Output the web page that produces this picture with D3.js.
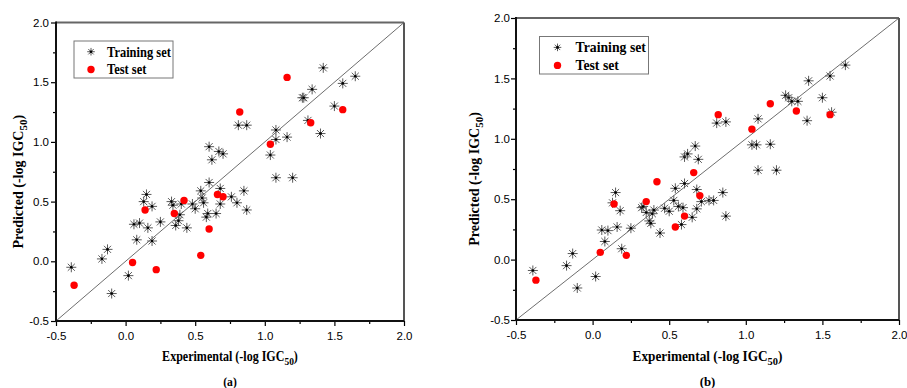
<!DOCTYPE html>
<html>
<head>
<meta charset="utf-8">
<script src="https://cdn.jsdelivr.net/npm/d3@7"></script>
<style>
  body { margin: 0; background: #fff; }
  .tick text { font-family: "Liberation Sans", Arial, sans-serif; font-size: 11.5px; fill: #000; }
  .ttl { font-family: "Liberation Serif", "Times New Roman", serif; font-weight: bold; font-size: 14px; fill: #000; }
</style>
</head>
<body>
<svg id="chart" width="907" height="388"></svg>
<script>
// ===== data =====
// panel (a): [experimental, predicted]
const trainA = [[-0.39,-0.05],[-0.17,0.02],[-0.13,0.10],[-0.10,-0.27],[0.02,-0.12],[0.06,0.31],[0.10,0.32],[0.08,0.18],
  [0.15,0.56],[0.13,0.50],[0.19,0.46],[0.16,0.28],[0.19,0.17],[0.25,0.33],[0.33,0.50],[0.34,0.47],[0.36,0.30],[0.38,0.34],
  [0.39,0.39],[0.40,0.48],[0.44,0.28],[0.48,0.48],[0.50,0.44],[0.54,0.59],[0.55,0.53],[0.56,0.49],[0.59,0.40],[0.58,0.37],
  [0.60,0.66],[0.65,0.40],[0.68,0.48],[0.68,0.61],[0.76,0.54],[0.80,0.49],[0.85,0.59],[0.87,0.43],[0.60,0.96],[0.67,0.92],
  [0.70,0.90],[0.62,0.85],[0.81,1.14],[0.87,1.14],[1.04,0.89],[1.08,1.02],[1.08,1.10],[1.16,1.04],[1.08,0.70],[1.20,0.70],
  [1.27,1.37],[1.28,1.37],[1.34,1.44],[1.31,1.18],[1.40,1.07],[1.42,1.62],[1.50,1.30],[1.56,1.49],[1.65,1.55]];
const testA = [[-0.37,-0.20],[0.05,-0.01],[0.14,0.43],[0.22,-0.07],[0.35,0.40],[0.42,0.51],[0.54,0.05],[0.60,0.27],
  [0.66,0.56],[0.70,0.54],[0.82,1.25],[1.04,0.98],[1.16,1.54],[1.33,1.16],[1.56,1.27]];
// panel (b)
const trainB = [[-0.39,-0.09],[-0.17,-0.05],[-0.13,0.05],[-0.10,-0.235],[0.02,-0.14],[0.06,0.245],[0.10,0.24],[0.08,0.15],
  [0.15,0.555],[0.13,0.47],[0.18,0.405],[0.16,0.27],[0.19,0.09],[0.25,0.26],[0.32,0.43],[0.33,0.44],[0.35,0.39],[0.37,0.32],
  [0.38,0.30],[0.39,0.38],[0.40,0.41],[0.44,0.22],[0.47,0.425],[0.50,0.40],[0.53,0.49],[0.54,0.59],[0.56,0.44],[0.59,0.43],
  [0.60,0.63],[0.58,0.29],[0.65,0.35],[0.68,0.42],[0.68,0.58],[0.71,0.48],[0.76,0.49],[0.79,0.49],[0.85,0.555],[0.87,0.36],
  [0.60,0.85],[0.62,0.875],[0.67,0.94],[0.69,0.83],[0.81,1.13],[0.87,1.14],[1.04,0.95],[1.07,0.95],[1.16,0.955],[1.08,1.165],
  [1.08,0.74],[1.20,0.74],[1.26,1.36],[1.28,1.34],[1.30,1.31],[1.34,1.31],[1.41,1.48],[1.40,1.15],[1.50,1.34],[1.55,1.52],
  [1.56,1.22],[1.65,1.61]];
const testB = [[-0.37,-0.17],[0.05,0.06],[0.22,0.035],[0.14,0.46],[0.35,0.48],[0.42,0.645],[0.54,0.27],[0.60,0.36],
  [0.70,0.53],[0.66,0.72],[0.82,1.20],[1.04,1.08],[1.16,1.29],[1.33,1.23],[1.55,1.20]];

const axisDomain = [-0.5, 2.0];
const majorTicks = [-0.5, 0.0, 0.5, 1.0, 1.5, 2.0];
const minorTicks = [-0.25, 0.25, 0.75, 1.25, 1.75];
const legendLabels = ["Training set", "Test set"];
const panelLabels = ["(a)", "(b)"];

//===== layout of the two panels =====
const panels = [
  { train: trainA, test: testA, label: panelLabels[0],
    left: 56, right: 404, bottom: 321, top: 22.5, sx: 0.86, ypad: 2, yTitleX: 23, yTitleShift: 10,
    legend: { x: 74, y: 41, w: 99, h: 37, sym: 17, txt: 33 } },
  { train: trainB, test: testB, label: panelLabels[1],
    left: 516, right: 899, bottom: 320, top: 18, sx: 0.95, ypad: 1, yTitleX: 479, yTitleShift: 10,
    legend: { x: 539.5, y: 36.5, w: 109, h: 37.5, sym: 18, txt: 36 } }
];

const svg = d3.select("#chart");

// 8-arm asterisk like Origin's symbol
const starPath = (r) => {
  let p = "";
  for (let k = 0; k < 4; k++) {
    const a = (k * Math.PI) / 4,
      dx = r * Math.cos(a),
      dy = r * Math.sin(a);
    p += `M${-dx},${-dy}L${dx},${dy}`;
  }
  return p;
};

const drawStar = (sel, r) => {
  sel.append("path").attr("d", starPath(r)).attr("stroke", "#5a5a5a").attr("stroke-width", 1).attr("fill", "none");
  sel.append("circle").attr("r", 1.3).attr("fill", "#000");
};

const fmt = (d) => d.toFixed(1);

const drawPanel = (p) => {
  const x = d3.scaleLinear().domain(axisDomain).range([p.left, p.right]);
  const y = d3.scaleLinear().domain(axisDomain).range([p.bottom, p.top]);
  const g = svg.append("g");

  // y = x line
  g.append("line")
    .attr("x1", x(axisDomain[0])).attr("y1", y(axisDomain[0]))
    .attr("x2", x(axisDomain[1])).attr("y2", y(axisDomain[1]))
    .attr("stroke", "#6e6e6e").attr("stroke-width", 1);

  // axes with major + minor ticks
  const xAxisG = g.append("g").attr("transform", `translate(0,${p.bottom})`);
  xAxisG.call(d3.axisBottom(x).tickValues(majorTicks).tickSize(5).tickPadding(6).tickFormat(fmt));
  xAxisG.append("g").call(d3.axisBottom(x).tickValues(minorTicks).tickSize(3).tickFormat(""));
  const yAxisG = g.append("g").attr("transform", `translate(${p.left},0)`);
  yAxisG.call(d3.axisLeft(y).tickValues(majorTicks).tickSize(5).tickPadding(p.ypad).tickFormat(fmt));
  yAxisG.append("g").call(d3.axisLeft(y).tickValues(minorTicks).tickSize(3).tickFormat(""));
  g.selectAll(".domain").remove();
  g.selectAll(".tick line").attr("stroke", "#000").attr("stroke-width", 1.2);

  // frame
  g.append("line").attr("x1", p.left).attr("x2", p.right).attr("y1", p.top).attr("y2", p.top)
    .attr("stroke", "#666").attr("stroke-width", 2);
  g.append("line").attr("x1", p.right).attr("x2", p.right).attr("y1", p.top).attr("y2", p.bottom)
    .attr("stroke", "#555").attr("stroke-width", 2);
  g.append("line").attr("x1", p.left).attr("x2", p.right).attr("y1", p.bottom).attr("y2", p.bottom)
    .attr("stroke", "#111").attr("stroke-width", 2);
  g.append("line").attr("x1", p.left).attr("x2", p.left).attr("y1", p.top - 1).attr("y2", p.bottom + 1)
    .attr("stroke", "#111").attr("stroke-width", 2);

  // training points
  g.selectAll("g.train")
    .data(p.train)
    .enter()
    .append("g")
    .attr("class", "train")
    .attr("transform", (d) => `translate(${x(d[0])},${y(d[1])})`)
    .each(function () { drawStar(d3.select(this), 5); });

  // test points
  g.selectAll("circle.test")
    .data(p.test)
    .enter()
    .append("circle")
    .attr("class", "test")
    .attr("cx", (d) => x(d[0]))
    .attr("cy", (d) => y(d[1]))
    .attr("r", 3.7)
    .attr("fill", "#ff0000");

  // legend
  const L = p.legend;
  const lg = g.append("g").attr("transform", `translate(${L.x},${L.y})`);
  lg.append("rect").attr("width", L.w).attr("height", L.h).attr("fill", "#fff")
    .attr("stroke", "#777").attr("stroke-width", 1);
  const rowY = [L.h * 0.29, L.h * 0.77];
  const s1 = lg.append("g").attr("transform", `translate(${L.sym},${rowY[0]})`);
  drawStar(s1, 3.8);
  lg.append("circle").attr("cx", L.sym).attr("cy", rowY[1]).attr("r", 3.7).attr("fill", "#ff0000");
  legendLabels.forEach((t, i) => {
    lg.append("text").attr("class", "ttl")
      .style("font-size", "14.5px")
      .attr("transform", `translate(${L.txt},${rowY[i] + 5}) scale(${p.sx},1)`)
      .text(t);
  });

  // axis titles
  const cx = (p.left + p.right) / 2;
  const xt = g.append("text").attr("class", "ttl")
    .attr("text-anchor", "middle")
    .attr("transform", `translate(${cx},361) scale(${p.sx},1)`);
  xt.append("tspan").text("Experimental (-log IGC");
  xt.append("tspan").attr("dy", 4).style("font-size", "11px").text("50");
  xt.append("tspan").attr("dy", -4).text(")");

  const cy = (p.top + p.bottom) / 2 + p.yTitleShift;
  const yt = g.append("text").attr("class", "ttl")
    .attr("text-anchor", "middle")
    .attr("transform", `translate(${p.yTitleX},${cy}) rotate(-90)`);
  yt.append("tspan").text("Predicted (-log IGC");
  yt.append("tspan").attr("dy", 4).style("font-size", "11px").text("50");
  yt.append("tspan").attr("dy", -4).text(")");

  // panel label
  g.append("text").attr("class", "ttl")
    .attr("text-anchor", "middle")
    .style("font-size", "13.5px")
    .attr("transform", `translate(${cx},386) scale(${p.sx},1)`)
    .text(p.label);
};

panels.forEach(drawPanel);
</script>
</body>
</html>
